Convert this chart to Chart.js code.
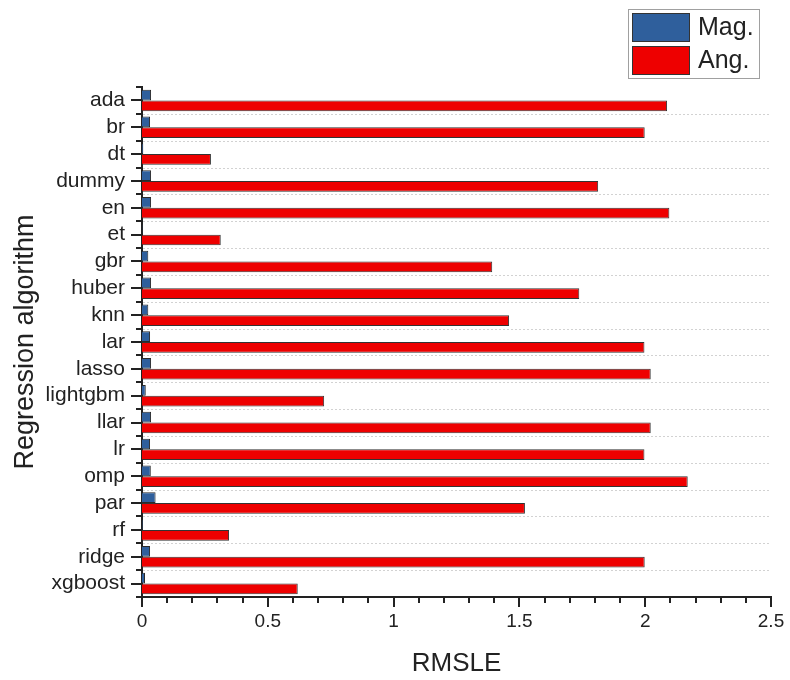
<!DOCTYPE html>
<html>
<head>
<meta charset="utf-8">
<script src="https://cdn.jsdelivr.net/npm/chart.js@4.4.1/dist/chart.umd.min.js"></script>
<style>
  html, body { margin: 0; padding: 0; background: #ffffff; }
  canvas { display: block; }
</style>
</head>
<body>
<canvas id="chart" width="790" height="680"></canvas>
<script>
// Regression algorithms, listed top to bottom
const algorithms = ['ada', 'br', 'dt', 'dummy', 'en', 'et', 'gbr', 'huber', 'knn', 'lar',
  'lasso', 'lightgbm', 'llar', 'lr', 'omp', 'par', 'rf', 'ridge', 'xgboost'];

// RMSLE of the magnitude model per algorithm
const magRmsle = [0.036, 0.032, 0.005, 0.036, 0.036, 0.002, 0.025, 0.036, 0.025, 0.032,
  0.036, 0.015, 0.036, 0.032, 0.035, 0.054, 0.003, 0.032, 0.012];

// RMSLE of the angle model per algorithm
const angRmsle = [2.087, 1.998, 0.274, 1.813, 2.096, 0.313, 1.392, 1.738, 1.459, 1.997,
  2.022, 0.724, 2.022, 1.997, 2.169, 1.522, 0.346, 1.998, 0.619];

const seriesNames = ['Mag.', 'Ang.'];
const xTickValues = [0, 0.5, 1, 1.5, 2, 2.5];
const xTickLabels = ['0', '0.5', '1', '1.5', '2', '2.5'];
const xMinorStep = 0.1;

const FONT = "'Liberation Sans', Arial, Helvetica, sans-serif";
const INK = '#222222';
const MAG_COLOR = '#2f5f9c';
const ANG_COLOR = '#ee0000';

// Dotted separators between categories, tick marks and the boxed legend
const axisDecor = {
  id: 'axisDecor',
  beforeDatasetsDraw(chart) {
    const { ctx, chartArea: a, scales: { y } } = chart;
    ctx.save();
    ctx.strokeStyle = '#d2d2d2';
    ctx.lineWidth = 1;
    ctx.setLineDash([2, 2]);
    for (let i = 0; i < algorithms.length - 1; i++) {
      const p = Math.round((y.getPixelForValue(i) + y.getPixelForValue(i + 1)) / 2) + 0.5;
      ctx.beginPath();
      ctx.moveTo(a.left + 1, p);
      ctx.lineTo(a.right, p);
      ctx.stroke();
    }
    ctx.restore();
  },
  afterDraw(chart) {
    const { ctx, chartArea: a, scales: { x, y } } = chart;
    ctx.save();
    ctx.strokeStyle = INK;
    ctx.lineWidth = 2;

    // x ticks: long at labelled values, short every 0.1
    const n = Math.round((x.max - x.min) / xMinorStep);
    for (let i = 0; i <= n; i++) {
      const v = x.min + i * xMinorStep;
      const major = xTickValues.some(t => Math.abs(t - v) < 1e-9);
      const px = Math.round(x.getPixelForValue(v));
      ctx.beginPath();
      ctx.moveTo(px, a.bottom);
      ctx.lineTo(px, a.bottom + (major ? 10 : 6));
      ctx.stroke();
    }

    // y ticks: long at category centres, short at category edges
    const half = (y.getPixelForValue(1) - y.getPixelForValue(0)) / 2;
    const yTick = (py, len) => {
      ctx.beginPath();
      ctx.moveTo(a.left - len, Math.round(py));
      ctx.lineTo(a.left, Math.round(py));
      ctx.stroke();
    };
    algorithms.forEach((_, i) => {
      const c = y.getPixelForValue(i);
      yTick(c, 11);
      yTick(c - half, 6);
    });
    yTick(y.getPixelForValue(algorithms.length - 1) + half, 6);

    // legend box
    const bx = a.right - 143, by = 9, bw = 131, bh = 69;
    ctx.lineWidth = 1;
    ctx.strokeStyle = '#a0a0a0';
    ctx.fillStyle = '#ffffff';
    ctx.fillRect(bx, by, bw, bh);
    ctx.strokeRect(bx + 0.5, by + 0.5, bw, bh);
    chart.data.datasets.forEach((ds, i) => {
      const sy = by + 4 + i * 33;
      ctx.fillStyle = ds.backgroundColor;
      ctx.fillRect(bx + 4, sy, 58, 29);
      ctx.strokeStyle = '#333333';
      ctx.strokeRect(bx + 4.5, sy + 0.5, 57, 28);
      ctx.fillStyle = INK;
      ctx.font = '25px ' + FONT;
      ctx.textAlign = 'left';
      ctx.textBaseline = 'middle';
      ctx.fillText(ds.label, bx + 70, sy + 15);
    });
    ctx.restore();
  }
};

new Chart(document.getElementById('chart'), {
  type: 'bar',
  data: {
    labels: algorithms,
    datasets: [
      {
        label: seriesNames[0],
        data: magRmsle,
        backgroundColor: MAG_COLOR,
        borderColor: '#2a2a2a',
        borderWidth: 1,
        categoryPercentage: 0.8,
        barPercentage: 1.0
      },
      {
        label: seriesNames[1],
        data: angRmsle,
        backgroundColor: ANG_COLOR,
        borderColor: '#333333',
        borderWidth: 1,
        categoryPercentage: 0.8,
        barPercentage: 1.0
      }
    ]
  },
  options: {
    indexAxis: 'y',
    responsive: false,
    animation: false,
    devicePixelRatio: 1,
    events: [],
    layout: { padding: { top: 87, right: 19, left: 0, bottom: 0 } },
    plugins: {
      legend: { display: false },
      tooltip: { enabled: false }
    },
    scales: {
      x: {
        type: 'linear',
        min: 0,
        max: 2.5,
        afterFit(s) { s.height = 83; s.paddingLeft = 0; s.paddingRight = 0; },
        afterBuildTicks(s) { s.ticks = xTickValues.map(v => ({ value: v })); },
        grid: { display: false, drawTicks: false },
        border: { display: true, color: INK, width: 2 },
        ticks: {
          padding: 13, color: INK, maxRotation: 0,
          font: { family: FONT, size: 19 },
          callback: (v) => xTickLabels[xTickValues.indexOf(v)] ?? String(v)
        },
        title: {
          display: true, text: 'RMSLE', color: INK,
          font: { family: FONT, size: 26 }, padding: { top: 0, bottom: 1 }
        }
      },
      y: {
        type: 'category',
        afterFit(s) { s.width = 142; s.paddingTop = 0; s.paddingBottom = 0; },
        grid: { display: false, drawTicks: false },
        border: { display: true, color: INK, width: 2 },
        ticks: { padding: 17, color: INK, autoSkip: false, font: { family: FONT, size: 21 } },
        title: {
          display: true, text: 'Regression algorithm', color: INK,
          font: { family: FONT, size: 27 }, padding: { top: 9, bottom: 0 }
        }
      }
    }
  },
  plugins: [axisDecor]
});
</script>
</body>
</html>
